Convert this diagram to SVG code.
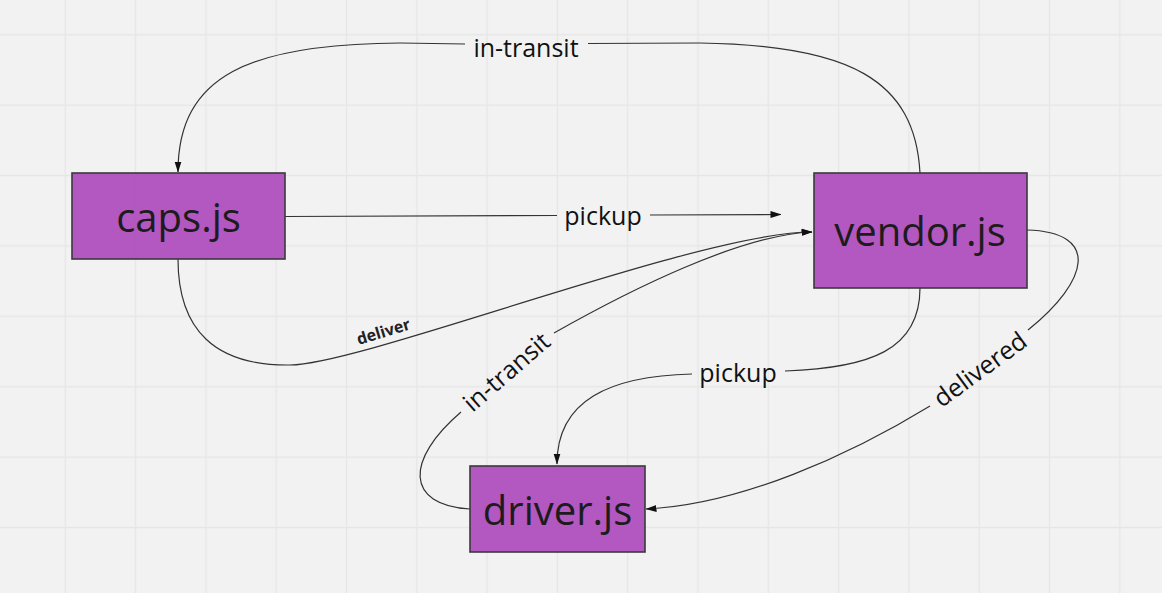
<svg xmlns="http://www.w3.org/2000/svg" width="1162" height="593" viewBox="0 0 1162 593">
  <defs>
    <pattern id="grid" x="30.15" y="-0.5" width="70.3" height="70.4" patternUnits="userSpaceOnUse">
      <path d="M35.15 0 V70.4 M0 35.2 H70.3" stroke="#e6e6e6" stroke-width="1.3" fill="none"/>
    </pattern>
    <marker id="arrow" markerUnits="userSpaceOnUse" markerWidth="11" markerHeight="8" refX="10.5" refY="3.5" orient="auto" viewBox="0 0 11 7">
      <path d="M0 0 L11 3.5 L0 7 Z" fill="#111"/>
    </marker>
    <style>
      .edge { fill: none; stroke: #333; stroke-width: 1.2; }
      .node rect { fill: #b050be; fill-opacity: 0.96; stroke: #3a3a3a; stroke-width: 1.6; }
      .node text { font-family: "Open Sans", "Liberation Sans", sans-serif; font-size: 40px; fill: #1c1c1c; text-anchor: middle; }
      .lbl { font-family: "Open Sans", "Liberation Sans", sans-serif; font-size: 25px; fill: #111; text-anchor: middle; }
      .lbl-b { font-family: "Open Sans", "Liberation Sans", sans-serif; font-size: 16px; font-weight: bold; fill: #222; text-anchor: middle; }
    </style>
  </defs>

  <rect width="1162" height="593" fill="#f2f2f2"/>
  <rect width="1162" height="593" fill="url(#grid)"/>

  <g id="connectors">
    <!-- vendor -> caps : in-transit (top) -->
    <path class="edge" d="M920 173 C915 80, 850 45, 700 43 L588 43.5"/>
    <path class="edge" d="M465 44 L400 43 C250 44, 178 75, 178 172" marker-end="url(#arrow)"/>
    <!-- caps -> vendor : pickup -->
    <path class="edge" d="M285 216.5 L557 215.5"/>
    <path class="edge" d="M650 215 L781 214.5" marker-end="url(#arrow)"/>
    <!-- caps -> vendor : deliver -->
    <path class="edge" d="M178 259 C178 330, 215 366, 290 365 C365 364, 700 232, 812 232" marker-end="url(#arrow)"/>
    <!-- driver -> vendor : in-transit -->
    <path class="edge" d="M470 509 C405 505, 405 460, 461 412"/>
    <path class="edge" d="M554 333 C630 290, 740 235, 812 232" marker-end="url(#arrow)"/>
    <!-- vendor -> driver : pickup -->
    <path class="edge" d="M920 288 C920 350, 870 368, 785 371"/>
    <path class="edge" d="M692 374 C610 376, 557 400, 557 464" marker-end="url(#arrow)"/>
    <!-- vendor -> driver : delivered -->
    <path class="edge" d="M1027 230 C1100 232, 1090 280, 1028 330"/>
    <path class="edge" d="M930 406 C850 455, 740 505, 646 509" marker-end="url(#arrow)"/>

    <text class="lbl" x="526" y="56.5">in-transit</text>
    <text class="lbl" x="603" y="225">pickup</text>
    <text class="lbl-b" transform="translate(385 337) rotate(-17)" x="0" y="0">deliver</text>
    <text class="lbl" transform="translate(507 372.5) rotate(-41)" x="0" y="8">in-transit</text>
    <text class="lbl" x="738" y="381.7">pickup</text>
    <text class="lbl" transform="translate(980.5 370) rotate(-36)" x="0" y="8">delivered</text>
  </g>

  <g id="caps" class="node">
    <rect x="72" y="173" width="213" height="86"/>
    <text x="178.5" y="231.5">caps.js</text>
  </g>
  <g id="vendor" class="node">
    <rect x="814" y="173" width="213" height="115"/>
    <text x="920" y="246">vendor.js</text>
  </g>
  <g id="driver" class="node">
    <rect x="470" y="466" width="175" height="86"/>
    <text x="557.5" y="525">driver.js</text>
  </g>
</svg>
